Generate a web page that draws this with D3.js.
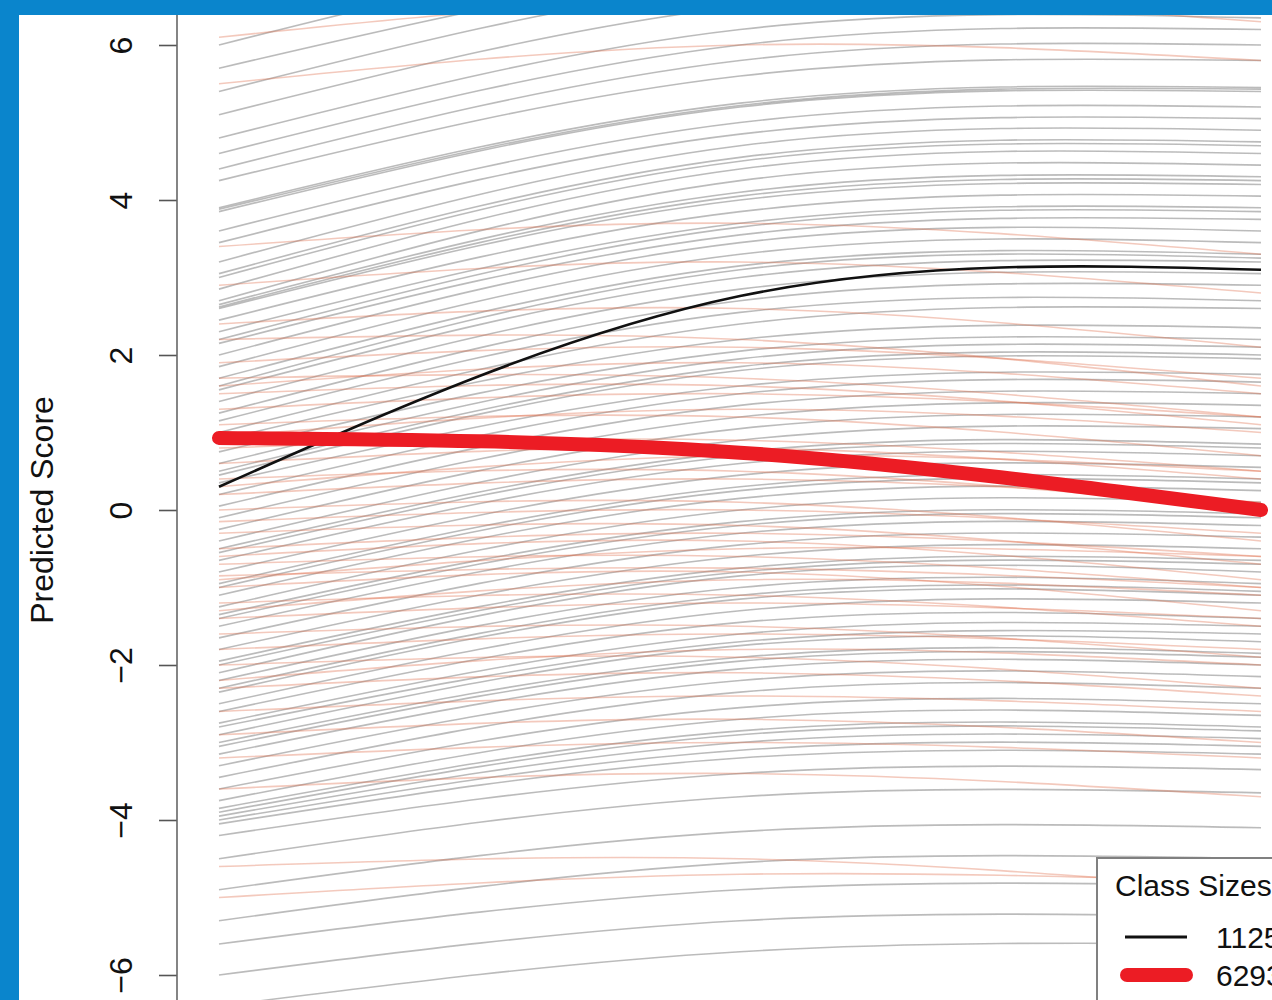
<!DOCTYPE html>
<html>
<head>
  <meta charset="UTF-8">
  <script src="https://d3js.org/d3.v7.min.js"></script>
  <style>
    body { margin: 0; background: #0a85cc; }
    svg { display: block; font-family: "Liberation Sans", Arial, sans-serif; }
  </style>
</head>
<body>
  <svg height="1000" width="1272" id="traj"></svg>

  <script>
    // measurement waves (start, middle, end of the observed period)
    let waves = [0, 0.5, 1];
    let yTicks = [-6, -4, -2, 0, 2, 4, 6];

    // class 1 individual trajectories: predicted score at each wave
    let class1Curves = [
      [6.0, 7.4, 7.6], [5.7, 7.0, 7.2], [5.4, 6.8, 7.0], [5.1, 6.5, 6.7], [4.8, 6.2, 6.35],
      [4.6, 6.0, 6.2], [4.4, 5.8, 6.0], [4.25, 5.6, 5.8], [3.9, 5.25, 5.45], [3.85, 5.2, 5.4],
      [3.88, 5.22, 5.43], [3.6, 5.0, 5.2], [3.45, 4.85, 5.05], [3.2, 4.7, 4.9], [3.05, 4.55, 4.75],
      [3.0, 4.5, 4.7], [2.85, 4.4, 4.6], [2.7, 4.25, 4.45], [2.65, 4.1, 4.3], [2.62, 4.05, 4.25],
      [2.6, 4.0, 4.2], [2.45, 3.85, 4.05], [2.3, 3.7, 3.9], [2.2, 3.65, 3.85], [2.15, 3.55, 3.75],
      [2.0, 3.45, 3.6], [1.85, 3.3, 3.45], [1.7, 3.15, 3.3], [1.6, 3.1, 3.25], [1.55, 3.0, 3.2],
      [1.4, 2.85, 3.05], [1.25, 2.7, 2.9], [1.15, 2.55, 2.7], [1.0, 2.4, 2.6], [0.9, 2.2, 2.35],
      [0.75, 2.05, 2.2], [0.6, 1.95, 2.1], [0.5, 1.85, 2.0], [0.45, 1.8, 1.95], [0.35, 1.6, 1.75],
      [0.2, 1.5, 1.65], [0.05, 1.35, 1.5], [-0.1, 1.2, 1.35], [-0.25, 1.05, 1.2], [-0.4, 0.9, 1.05],
      [-0.5, 0.75, 0.85], [-0.55, 0.7, 0.8], [-0.65, 0.6, 0.7], [-0.8, 0.45, 0.55], [-0.95, 0.3, 0.4],
      [-1.0, 0.25, 0.35], [-1.1, 0.15, 0.25], [-1.25, 0.0, 0.1], [-1.35, -0.15, -0.05], [-1.4, -0.2, -0.1],
      [-1.5, -0.3, -0.2], [-1.65, -0.45, -0.35], [-1.8, -0.6, -0.5], [-1.95, -0.75, -0.65], [-2.0, -0.8, -0.7],
      [-2.1, -0.85, -0.8], [-2.2, -1.0, -0.95], [-2.3, -1.1, -1.05], [-2.35, -1.15, -1.1], [-2.5, -1.3, -1.2],
      [-2.6, -1.45, -1.4], [-2.75, -1.6, -1.5], [-2.8, -1.7, -1.6], [-2.9, -1.75, -1.7], [-3.0, -1.9, -1.85],
      [-3.05, -1.95, -1.9], [-3.15, -2.05, -2.0], [-3.3, -2.2, -2.15], [-3.45, -2.35, -2.3], [-3.6, -2.55, -2.5],
      [-3.75, -2.7, -2.65], [-3.85, -2.85, -2.8], [-3.9, -2.9, -2.85], [-3.95, -3.0, -2.95], [-4.0, -3.1, -3.05],
      [-4.05, -3.2, -3.15], [-4.2, -3.4, -3.35], [-4.5, -3.7, -3.65], [-4.9, -4.15, -4.1], [-5.3, -4.55, -4.5],
      [-5.6, -4.9, -4.85], [-6.0, -5.3, -5.25], [-6.4, -5.7, -5.6]
    ];

    // class 2 individual trajectories
    let class2Curves = [
      [6.1, 6.6, 6.3], [5.5, 6.0, 5.8], [3.4, 3.7, 3.3], [2.9, 3.2, 2.8], [2.4, 2.6, 2.1],
      [2.2, 2.2, 1.6], [1.9, 2.1, 1.7], [1.7, 1.7, 1.2], [1.6, 1.9, 1.5], [1.5, 1.6, 1.1],
      [1.3, 1.5, 1.2], [1.1, 1.2, 0.7], [0.95, 1.3, 1.0], [0.8, 0.9, 0.5], [0.6, 0.8, 0.4],
      [0.4, 0.5, 0.0], [0.3, 0.7, 0.5], [0.2, 0.4, 0.1], [0.0, 0.1, -0.4], [-0.15, 0.0, -0.3],
      [-0.3, -0.2, -0.7], [-0.5, -0.3, -0.6], [-0.6, -0.4, -0.9], [-0.7, -0.6, -1.0], [-0.85, -0.75, -1.0],
      [-0.9, -0.5, -0.6], [-1.0, -0.8, -1.3], [-1.2, -1.1, -1.5], [-1.3, -0.9, -1.1], [-1.4, -1.2, -1.4],
      [-1.6, -1.5, -1.9], [-1.8, -1.6, -1.8], [-2.0, -1.9, -2.3], [-2.2, -1.8, -2.0], [-2.3, -2.1, -2.4],
      [-2.6, -2.4, -2.6], [-2.9, -2.7, -3.0], [-3.2, -3.0, -3.2], [-3.6, -3.4, -3.7], [-4.6, -4.5, -4.9],
      [-5.0, -4.7, -4.8]
    ];

    // estimated class mean trajectories
    let class1Mean = [0.3, 2.76, 3.1];
    let class2Mean = [0.93, 0.74, 0.0];
    let classSizes = ["1125", "6293"];

    let svg = d3.select("#traj");

    let defs = svg.append("defs");
    defs.append("filter").attr("id", "soft")
      .append("feGaussianBlur").attr("stdDeviation", 0.7);

    // white plot panel inside the blue frame
    svg.append("rect")
      .attr("x", 19).attr("y", 15)
      .attr("width", 1272).attr("height", 1000)
      .attr("fill", "white");

    let xScale = d3.scaleLinear().domain([0, 1]).range([219, 1261]);
    let yScale = d3.scaleLinear().domain([-6, 6]).range([975, 45]);

    defs.append("clipPath").attr("id", "plotClip")
      .append("rect")
      .attr("x", 178).attr("y", 15)
      .attr("width", 1100).attr("height", 990);

    let line = d3.line()
      .x((d, i) => xScale(waves[i]))
      .y(d => yScale(d))
      .curve(d3.curveNatural);

    let plot = svg.append("g").attr("clip-path", "url(#plotClip)");
    let faint = plot.append("g").attr("filter", "url(#soft)");

    faint.selectAll(".c1")
      .data(class1Curves)
      .enter()
      .append("path")
      .attr("class", "c1")
      .attr("d", line)
      .attr("fill", "none")
      .attr("stroke", "#555")
      .attr("stroke-opacity", 0.4)
      .attr("stroke-width", 1.6);

    faint.selectAll(".c2")
      .data(class2Curves)
      .enter()
      .append("path")
      .attr("class", "c2")
      .attr("d", line)
      .attr("fill", "none")
      .attr("stroke", "#e07050")
      .attr("stroke-opacity", 0.38)
      .attr("stroke-width", 1.6);

    plot.append("path")
      .attr("d", line(class1Mean))
      .attr("fill", "none")
      .attr("stroke", "#111")
      .attr("stroke-width", 2.6);

    plot.append("path")
      .attr("d", line(class2Mean))
      .attr("fill", "none")
      .attr("stroke", "#ec1c24")
      .attr("stroke-width", 14)
      .attr("stroke-linecap", "round");

    // y axis (R style, rotated tick labels)
    let yAxis = d3.axisLeft(yScale)
      .tickValues(yTicks)
      .tickSize(18)
      .tickSizeOuter(0)
      .tickFormat(d => d < 0 ? "\u2212" + Math.abs(d) : d);

    let axisG = svg.append("g")
      .attr("transform", "translate(177, 0)")
      .call(yAxis);

    axisG.select(".domain").remove();
    axisG.selectAll(".tick line").attr("stroke", "#555").attr("stroke-width", 1.6);
    axisG.selectAll(".tick text")
      .attr("transform", "rotate(-90)")
      .attr("x", 0)
      .attr("y", -45)
      .attr("dy", 0)
      .attr("text-anchor", "middle")
      .attr("font-size", 32)
      .attr("font-family", "Liberation Sans, Arial, sans-serif")
      .attr("fill", "#111");

    // plot box left edge
    svg.append("line")
      .attr("x1", 177).attr("x2", 177)
      .attr("y1", 15).attr("y2", 1000)
      .attr("stroke", "#666")
      .attr("stroke-width", 1.6);

    svg.append("text")
      .attr("transform", "translate(53, 510) rotate(-90)")
      .attr("text-anchor", "middle")
      .attr("font-size", 32)
      .attr("fill", "#111")
      .text("Predicted Score");

    // legend
    let legend = svg.append("g");

    legend.append("rect")
      .attr("x", 1097).attr("y", 858)
      .attr("width", 300).attr("height", 200)
      .attr("fill", "white")
      .attr("stroke", "#808080")
      .attr("stroke-width", 2);

    legend.append("text")
      .attr("x", 1115).attr("y", 896)
      .attr("font-size", 30)
      .attr("fill", "#111")
      .text("Class Sizes");

    legend.append("line")
      .attr("x1", 1125).attr("x2", 1187)
      .attr("y1", 937).attr("y2", 937)
      .attr("stroke", "#111")
      .attr("stroke-width", 3);

    legend.append("line")
      .attr("x1", 1127).attr("x2", 1186)
      .attr("y1", 975).attr("y2", 975)
      .attr("stroke", "#ec1c24")
      .attr("stroke-width", 14)
      .attr("stroke-linecap", "round");

    legend.selectAll(".size")
      .data(classSizes)
      .enter()
      .append("text")
      .attr("class", "size")
      .attr("x", 1216)
      .attr("y", (d, i) => 948 + i * 38)
      .attr("font-size", 30)
      .attr("fill", "#111")
      .text(d => d);
  </script>
</body>
</html>
